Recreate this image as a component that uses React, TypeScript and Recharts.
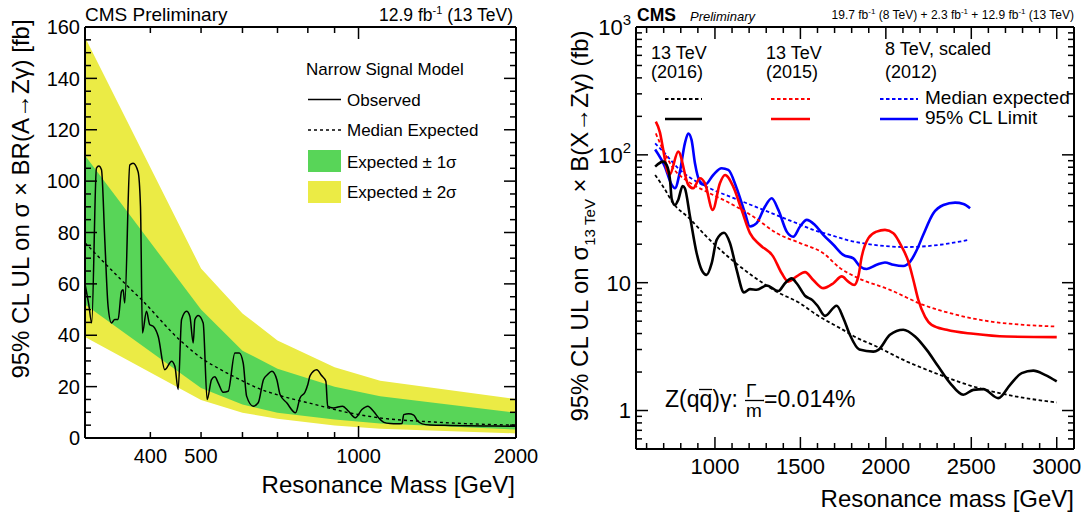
import React from "react";
import { ComposedChart, Area, Line, XAxis, YAxis } from "recharts";

const FONT = "'Liberation Sans', Arial, Helvetica, sans-serif";
const YELLOW = "#ebeb45";
const GREEN = "#58d558";
const RED = "#ff0000";
const BLUE = "#0000ff";

// ---------- left panel: narrow signal model, 12.9 fb-1 ----------
const LEFT_BAND_MASS = [300, 500, 600, 700, 900, 1100, 2000];
const LEFT_2S_HIGH = [156, 66, 48.5, 38, 27.5, 22.3, 15.2];
const LEFT_1S_HIGH = [110, 50, 34, 27, 20, 16.3, 9.8];
const LEFT_1S_LOW = [52, 19.5, 13, 9.8, 7.2, 5.6, 3.3];
const LEFT_2S_LOW = [39.3, 14.8, 9.8, 7.5, 4.9, 3.6, 1.8];

const LEFT_EXP_MASS = [300, 357, 385, 455, 510, 530, 610, 640, 708, 820, 950, 1100, 1370, 1600, 2000];
const LEFT_EXP = [76, 60.3, 53.8, 38.2, 30, 28, 21.5, 19.5, 16.5, 13.2, 10, 7.8, 6.3, 5.6, 5.0];

const LEFT_OBS_MASS = [
  300, 305, 309, 315.5, 318.8, 322.6, 327.3, 332.1, 337, 342, 347, 352.3, 354.8, 357.4,
  365.4, 370.7, 378.9, 383, 386.3, 393.2, 399, 405, 414, 426.4, 439.2, 445.6, 452.1,
  458.9, 469.1, 476, 483, 486.6, 493.7, 504.7, 513.6, 523.6, 531.3, 539.1, 551.1, 563.4,
  580.3, 591.5, 601.9, 611, 629, 643, 658, 670, 683, 698, 708, 729, 758, 773, 790, 800,
  808, 832, 850, 866, 873, 895, 932, 957, 986, 1015, 1042, 1068, 1100, 1118, 1149, 1185,
  1211, 1220, 1247, 1275, 1294, 1323, 1371, 1499, 1736, 2000,
];
const LEFT_OBS = [
  60, 52, 44.8, 105.1, 105.9, 104.4, 77.2, 51.2, 44.8, 46.1, 46.1, 57.1, 57.7, 52.6,
  106.3, 107, 103.7, 90.1, 40.9, 49.3, 44.1, 43.5, 39.6, 26.6, 29.9, 27.9, 18.9,
  46.1, 49.3, 47.4, 37, 46.1, 47.7, 44.8, 15, 22.7, 23.8, 21.5, 17.8, 18.2,
  33.1, 33.1, 29.2, 16.3, 12.4, 13.7, 22.7, 24.7, 26, 22.7, 16.9, 13.7, 9.8, 15.6, 17.8, 20.8,
  24.3, 26.6, 24.3, 22.1, 12.4, 11.7, 12.4, 10.4, 7.9, 11.1, 12.4, 10.4, 7.2, 6.1, 5.6, 5.5,
  5.6, 9.1, 9.4, 8.9, 6.9, 5.5, 5.1, 4.9, 4.7, 4.6,
];

const LEFT_X_DOMAIN = [300, 2000];
const LEFT_Y_DOMAIN = [0, 160];
const LEFT_X_TICKS = [400, 500, 600, 700, 800, 900, 1000, 2000];
const LEFT_X_MAJOR = [1000, 2000];
const LEFT_X_LABELS = [400, 500, 1000, 2000];
const LEFT_Y_TICKS = [
  0, 5, 10, 15, 20, 25, 30, 35, 40, 45, 50, 55, 60, 65, 70, 75, 80, 85, 90, 95, 100,
  105, 110, 115, 120, 125, 130, 135, 140, 145, 150, 155, 160,
];
const LEFT_Y_LABELS = [0, 20, 40, 60, 80, 100, 120, 140, 160];

// ---------- right panel: combination, Z(qq)gamma ----------
const BLACK_OBS_MASS = [
  650, 697, 717, 737, 747, 766, 785, 811, 824, 854, 893, 922, 951, 981, 1010, 1053, 1088,
  1127, 1170, 1205, 1244, 1303, 1371, 1410, 1449, 1478, 1527, 1570, 1600, 1644, 1712, 1751,
  1790, 1845, 1927, 1956, 2024, 2102, 2171, 2239, 2307, 2376, 2453, 2512, 2570, 2658, 2727,
  2795, 2863, 2931, 3000,
];
const BLACK_OBS = [
  80.9, 88.5, 83.4, 63.7, 45, 40.5, 44.4, 57.1, 54.8, 32.9, 17, 12.6, 11.5, 14.2, 21.6, 24.6, 20.4,
  12.6, 8.4, 8.9, 8.8, 9.5, 8.6, 9.9, 10.8, 9.9, 7.9, 7.3, 6.6, 5.5, 6.6, 5.3,
  3.9, 3.0, 2.89, 2.98, 3.91, 4.28, 3.79, 2.98, 2.21, 1.64, 1.33, 1.45, 1.47, 1.25, 1.59,
  1.96, 2.05, 1.9, 1.69,
];
const BLACK_EXP_MASS = [650, 697, 756, 854, 951, 1088, 1224, 1361, 1498, 1595, 1732, 1849, 1927, 2122, 2317, 2512, 2707, 3000];
const BLACK_EXP = [69.6, 56.4, 41.8, 31.5, 22.9, 15.5, 11.2, 8.5, 6.9, 5.6, 4.41, 3.6, 3.25, 2.42, 1.9, 1.54, 1.33, 1.155];

const RED_OBS_MASS = [
  654, 678, 697, 722, 735, 785, 844, 873, 912, 941, 987, 1029, 1059, 1107, 1156, 1205, 1263,
  1341, 1390, 1429, 1478, 1527, 1575, 1634, 1693, 1742, 1780, 1815, 1839, 1859, 1898, 1946,
  1995, 2044, 2093, 2132, 2161, 2190, 2229, 2268, 2356, 2512, 2707, 3000,
];
const RED_OBS = [
  182, 150, 110, 74, 70, 106, 58.2, 54.8, 65.6, 60, 37.1, 60, 69.6, 56.4, 37.1, 24.4, 19.8,
  16, 11.9, 10.2, 11.2, 12.1, 10.5, 9.06, 9.9, 11.2, 10.2, 9.6, 11.2, 16, 22.3, 25.1,
  25.9, 24.4, 19.1, 14.6, 10.5, 7.34, 5.43, 4.68, 4.28, 3.98, 3.79, 3.75,
];
const RED_EXP_MASS = [654, 697, 756, 844, 951, 1088, 1224, 1361, 1498, 1634, 1732, 1829, 2024, 2219, 2415, 2610, 2805, 3000];
const RED_EXP = [147, 109, 78.5, 61.7, 51.5, 41.8, 32.9, 24.4, 20.4, 17, 13, 11, 8.79, 6.7, 5.6, 4.97, 4.68, 4.54];

const BLUE_OBS_MASS = [
  650, 707, 747, 766, 795, 824, 844, 863, 883, 912, 941, 990, 1039, 1078, 1127, 1176, 1205,
  1244, 1293, 1332, 1371, 1420, 1458, 1498, 1537, 1585, 1634, 1693, 1751, 1810, 1849, 1888,
  1946, 1995, 2044, 2102, 2142, 2181, 2219, 2278, 2337, 2405, 2454, 2493,
];
const BLUE_OBS = [
  110, 80.9, 58.2, 54.8, 73.9, 123, 147, 131, 86, 61.7, 58.2, 69.6, 78.5, 76.2, 54.8, 34.9, 27.5,
  29.2, 39.4, 45.8, 37.1, 25.1, 22.9, 27.5, 31, 28.3, 23.7, 19.8, 16.5, 15.5, 13.4, 12.8,
  13.8, 14.4, 13.8, 13.5, 14.6, 18, 23.7, 34.9, 40.5, 42.3, 41.3, 38.2,
];
const BLUE_EXP_MASS = [650, 697, 795, 893, 990, 1088, 1186, 1283, 1381, 1478, 1575, 1673, 1771, 1927, 2122, 2317, 2483];
const BLUE_EXP = [123, 106, 76.2, 61.7, 53.2, 47.1, 41.8, 37.1, 32.9, 29.2, 25.9, 23.7, 21.6, 19.8, 19, 19.8, 21.6];

const RIGHT_X_DOMAIN = [538, 3101];
const RIGHT_Y_DOMAIN = [0.5, 1000];
const RIGHT_X_TICKS = [
  600, 700, 800, 900, 1000, 1100, 1200, 1300, 1400, 1500, 1600, 1700, 1800, 1900, 2000,
  2100, 2200, 2300, 2400, 2500, 2600, 2700, 2800, 2900, 3000,
];
const RIGHT_X_MAJOR = [1000, 1500, 2000, 2500, 3000];
const RIGHT_X_LABELS = [1000, 1500, 2000, 2500, 3000];
const RIGHT_Y_TICKS = [
  0.5, 0.6, 0.7, 0.8, 0.9, 1, 2, 3, 4, 5, 6, 7, 8, 9, 10, 20, 30, 40, 50, 60, 70, 80, 90,
  100, 200, 300, 400, 500, 600, 700, 800, 900, 1000,
];
const RIGHT_Y_MAJOR = [1, 10, 100, 1000];

const zip = (xs: number[], ys: number[]) => xs.map((m, i) => ({ m, v: ys[i] }));

const leftBands = LEFT_BAND_MASS.map((m, i) => ({
  m,
  two: [LEFT_2S_LOW[i], LEFT_2S_HIGH[i]],
  one: [LEFT_1S_LOW[i], LEFT_1S_HIGH[i]],
}));
const leftExp = zip(LEFT_EXP_MASS, LEFT_EXP);
const leftObs = zip(LEFT_OBS_MASS, LEFT_OBS);

const blackObs = zip(BLACK_OBS_MASS, BLACK_OBS);
const blackExp = zip(BLACK_EXP_MASS, BLACK_EXP);
const redObs = zip(RED_OBS_MASS, RED_OBS);
const redExp = zip(RED_EXP_MASS, RED_EXP);
const blueObs = zip(BLUE_OBS_MASS, BLUE_OBS);
const blueExp = zip(BLUE_EXP_MASS, BLUE_EXP);

// plot rectangles (page pixels) that the chart margins below produce
const LP = { x0: 85, x1: 516, y0: 27, y1: 438 };
const RP = { x0: 636, x1: 1074, y0: 27, y1: 449 };

function logLabel(v: number) {
  if (v === 1000) return <><tspan>10</tspan><tspan dy={-10} fontSize={15}>3</tspan></>;
  if (v === 100) return <><tspan>10</tspan><tspan dy={-10} fontSize={15}>2</tspan></>;
  return <tspan>{v}</tspan>;
}

// axis labels from the recharts axes
const labelTick =
  (side: string, labels: number[], fontSize: number, fmt?: (v: number) => React.ReactNode) =>
  (p: any) => {
    const v = p.payload.value;
    if (!labels.includes(v)) return <g />;
    const x = Number(p.x);
    const y = Number(p.y);
    if (side === "bottom")
      return (
        <text x={x} y={y + 25} textAnchor="middle" fontSize={fontSize} fontFamily={FONT} fill="#000">
          {fmt ? fmt(v) : v}
        </text>
      );
    return (
      <text x={x - 5} y={y + fontSize * 0.36} textAnchor="end" fontSize={fontSize} fontFamily={FONT} fill="#000">
        {fmt ? fmt(v) : v}
      </text>
    );
  };

function LeftPanel() {
  return (
    <ComposedChart width={540} height={518} margin={{ top: 27, right: 24, bottom: 0, left: 0 }}>
      <XAxis xAxisId="b" dataKey="m" type="number" scale="log" domain={LEFT_X_DOMAIN} allowDataOverflow
        ticks={LEFT_X_TICKS} interval={0} height={80} tickSize={0} tickMargin={0} tickLine={false}
        axisLine={false} tick={labelTick("bottom", LEFT_X_LABELS, 20)} />
      <YAxis yAxisId="l" type="number" domain={LEFT_Y_DOMAIN} allowDataOverflow ticks={LEFT_Y_TICKS} interval={0}
        width={85} tickSize={0} tickMargin={0} tickLine={false} axisLine={false}
        tick={labelTick("left", LEFT_Y_LABELS, 20)} />
      <Area xAxisId="b" yAxisId="l" data={leftBands} dataKey="two" type="linear" stroke="none"
        fill={YELLOW} fillOpacity={1} isAnimationActive={false} />
      <Area xAxisId="b" yAxisId="l" data={leftBands} dataKey="one" type="linear" stroke="none"
        fill={GREEN} fillOpacity={1} isAnimationActive={false} />
      <Line xAxisId="b" yAxisId="l" data={leftExp} dataKey="v" type="monotone" stroke="#000"
        strokeWidth={1.4} strokeDasharray="3 3" dot={false} isAnimationActive={false} />
      <Line xAxisId="b" yAxisId="l" data={leftObs} dataKey="v" type="monotone" stroke="#000"
        strokeWidth={1.5} dot={false} isAnimationActive={false} />
    </ComposedChart>
  );
}

function RightPanel() {
  const dash = "3.5 2.5";
  return (
    <ComposedChart width={546} height={518} margin={{ top: 27, right: 12, bottom: 0, left: 0 }}>
      <XAxis xAxisId="b" dataKey="m" type="number" domain={RIGHT_X_DOMAIN} allowDataOverflow
        ticks={RIGHT_X_TICKS} interval={0} height={69} tickSize={0} tickMargin={0} tickLine={false}
        axisLine={false} tick={labelTick("bottom", RIGHT_X_LABELS, 22)} />
      <YAxis yAxisId="l" type="number" scale="log" domain={RIGHT_Y_DOMAIN} allowDataOverflow ticks={RIGHT_Y_TICKS}
        interval={0} width={96} tickSize={0} tickMargin={0} tickLine={false} axisLine={false}
        tick={labelTick("left", RIGHT_Y_MAJOR, 22, logLabel)} />
      <Line xAxisId="b" yAxisId="l" data={blueExp} dataKey="v" type="monotone" stroke={BLUE}
        strokeWidth={1.8} strokeDasharray={dash} dot={false} isAnimationActive={false} />
      <Line xAxisId="b" yAxisId="l" data={blueObs} dataKey="v" type="monotone" stroke={BLUE}
        strokeWidth={2.6} dot={false} isAnimationActive={false} />
      <Line xAxisId="b" yAxisId="l" data={redExp} dataKey="v" type="monotone" stroke={RED}
        strokeWidth={1.8} strokeDasharray={dash} dot={false} isAnimationActive={false} />
      <Line xAxisId="b" yAxisId="l" data={redObs} dataKey="v" type="monotone" stroke={RED}
        strokeWidth={2.6} dot={false} isAnimationActive={false} />
      <Line xAxisId="b" yAxisId="l" data={blackExp} dataKey="v" type="monotone" stroke="#000"
        strokeWidth={1.8} strokeDasharray={dash} dot={false} isAnimationActive={false} />
      <Line xAxisId="b" yAxisId="l" data={blackObs} dataKey="v" type="monotone" stroke="#000"
        strokeWidth={2.6} dot={false} isAnimationActive={false} />
    </ComposedChart>
  );
}

// ROOT-style frame with inward ticks on all four sides
function Frame({ r, xs, ys, xMajor, yMajor, fx, fy }: any) {
  const parts: React.ReactNode[] = [];
  xs.forEach((v: number) => {
    const x = fx(v);
    const len = xMajor.includes(v) ? 12 : 6;
    parts.push(<line key={"xb" + v} x1={x} x2={x} y1={r.y1} y2={r.y1 - len} />);
    parts.push(<line key={"xt" + v} x1={x} x2={x} y1={r.y0} y2={r.y0 + len} />);
  });
  ys.forEach((v: number) => {
    const y = fy(v);
    const len = yMajor.includes(v) ? 12 : 6;
    parts.push(<line key={"yl" + v} x1={r.x0} x2={r.x0 + len} y1={y} y2={y} />);
    parts.push(<line key={"yr" + v} x1={r.x1} x2={r.x1 - len} y1={y} y2={y} />);
  });
  return (
    <g>
      <g stroke="#000" strokeWidth={1.5}>{parts}</g>
      <line x1={r.x0} x2={r.x1} y1={r.y0} y2={r.y0} stroke="#000" strokeWidth={2} />
      <line x1={r.x0} x2={r.x1} y1={r.y1} y2={r.y1} stroke="#000" strokeWidth={2} />
      <line x1={r.x0} x2={r.x0} y1={r.y0} y2={r.y1} stroke="#000" strokeWidth={2} />
      <line x1={r.x1} x2={r.x1} y1={r.y0} y2={r.y1} stroke="#000" strokeWidth={2} />
    </g>
  );
}

const leftX = (m: number) =>
  LP.x0 + ((LP.x1 - LP.x0) * Math.log(m / LEFT_X_DOMAIN[0])) / Math.log(LEFT_X_DOMAIN[1] / LEFT_X_DOMAIN[0]);
const leftY = (v: number) => LP.y1 - ((LP.y1 - LP.y0) * (v - LEFT_Y_DOMAIN[0])) / (LEFT_Y_DOMAIN[1] - LEFT_Y_DOMAIN[0]);
const rightX = (m: number) =>
  RP.x0 + ((RP.x1 - RP.x0) * (m - RIGHT_X_DOMAIN[0])) / (RIGHT_X_DOMAIN[1] - RIGHT_X_DOMAIN[0]);
const rightY = (v: number) =>
  RP.y1 - ((RP.y1 - RP.y0) * Math.log(v / RIGHT_Y_DOMAIN[0])) / Math.log(RIGHT_Y_DOMAIN[1] / RIGHT_Y_DOMAIN[0]);

function Labels() {
  const t = { fontFamily: FONT, fill: "#000" };
  return (
    <svg width={1086} height={518} style={{ position: "absolute", left: 0, top: 0, pointerEvents: "none", zIndex: 5 }}>
      <Frame r={LP} xs={LEFT_X_TICKS} ys={LEFT_Y_TICKS} xMajor={LEFT_X_MAJOR} yMajor={LEFT_Y_LABELS} fx={leftX} fy={leftY} />
      <Frame r={RP} xs={RIGHT_X_TICKS} ys={RIGHT_Y_TICKS} xMajor={RIGHT_X_MAJOR} yMajor={RIGHT_Y_MAJOR} fx={rightX} fy={rightY} />

      {/* left panel */}
      <text {...t} x={85} y={21} fontSize={19}>CMS Preliminary</text>
      <text {...t} x={513} y={21} fontSize={17.5} textAnchor="end">
        12.9 fb<tspan dy={-7} fontSize={11}>-1</tspan><tspan dy={7}> (13 TeV)</tspan>
      </text>
      <text {...t} x={29} y={199} fontSize={24} textAnchor="middle" transform="rotate(-90 29 199)">
        95% CL UL on σ × BR(A→Zγ) [fb]
      </text>
      <text {...t} x={515} y={493} fontSize={24} textAnchor="end">Resonance Mass [GeV]</text>

      <text {...t} x={306} y={75} fontSize={17}>Narrow Signal Model</text>
      <line x1={308} x2={341} y1={99.5} y2={99.5} stroke="#000" strokeWidth={1.4} />
      <text {...t} x={347} y={106} fontSize={17}>Observed</text>
      <line x1={308} x2={341} y1={130} y2={130} stroke="#000" strokeWidth={1.4} strokeDasharray="3 3" />
      <text {...t} x={347} y={136} fontSize={17}>Median Expected</text>
      <rect x={308} y={150} width={33} height={22} fill={GREEN} />
      <text {...t} x={347} y={167.5} fontSize={17}>Expected ± 1σ</text>
      <rect x={308} y={181} width={33} height={22} fill={YELLOW} />
      <text {...t} x={347} y={198} fontSize={17}>Expected ± 2σ</text>

      {/* right panel */}
      <text {...t} x={637} y={21} fontSize={17.5} fontWeight="bold">CMS</text>
      <text {...t} x={690} y={21} fontSize={13} fontStyle="italic">Preliminary</text>
      <text {...t} x={1074} y={19} fontSize={12} textAnchor="end">
        19.7 fb<tspan dy={-5} fontSize={8}>-1</tspan><tspan dy={5}> (8 TeV) +  2.3 fb</tspan>
        <tspan dy={-5} fontSize={8}>-1</tspan><tspan dy={5}> + 12.9 fb</tspan>
        <tspan dy={-5} fontSize={8}>-1</tspan><tspan dy={5}> (13 TeV)</tspan>
      </text>
      <text {...t} x={588} y={226} fontSize={24} textAnchor="middle" transform="rotate(-90 588 226)">
        95% CL UL on σ<tspan dy={7} fontSize={15}>13 TeV</tspan><tspan dy={-7}> × B(X→Zγ) (fb)</tspan>
      </text>
      <text {...t} x={1074} y={506.5} fontSize={24} textAnchor="end">Resonance mass [GeV]</text>

      <text {...t} x={651} y={59} fontSize={18}>13 TeV</text>
      <text {...t} x={651} y={78} fontSize={18}>(2016)</text>
      <text {...t} x={766} y={59} fontSize={18}>13 TeV</text>
      <text {...t} x={766} y={78} fontSize={18}>(2015)</text>
      <text {...t} x={885} y={55} fontSize={18}>8 TeV, scaled</text>
      <text {...t} x={885} y={78} fontSize={18}>(2012)</text>
      <line x1={665} x2={702} y1={99} y2={99} stroke="#000" strokeWidth={1.8} strokeDasharray="3.5 2.5" />
      <line x1={665} x2={702} y1={119} y2={119} stroke="#000" strokeWidth={2.6} />
      <line x1={771} x2={810} y1={99} y2={99} stroke={RED} strokeWidth={1.8} strokeDasharray="3.5 2.5" />
      <line x1={771} x2={810} y1={119} y2={119} stroke={RED} strokeWidth={2.6} />
      <line x1={880} x2={918} y1={99} y2={99} stroke={BLUE} strokeWidth={1.8} strokeDasharray="3.5 2.5" />
      <line x1={880} x2={918} y1={119} y2={119} stroke={BLUE} strokeWidth={2.6} />
      <text {...t} x={925} y={103.5} fontSize={19}>Median expected</text>
      <text {...t} x={925} y={123.5} fontSize={19}>95% CL Limit</text>

      <text {...t} x={665} y={407} fontSize={23}>Z(qq)γ:</text>
      <line x1={699} x2={712} y1={389.5} y2={389.5} stroke="#000" strokeWidth={1.3} />
      <text {...t} x={746} y={396.5} fontSize={19}>Γ</text>
      <line x1={745} x2={764} y1={400.5} y2={400.5} stroke="#000" strokeWidth={1.3} />
      <text {...t} x={746} y={416.5} fontSize={19}>m</text>
      <text {...t} x={764} y={407} fontSize={23}>=0.014%</text>
    </svg>
  );
}

export default function App() {
  return (
    <div style={{ position: "absolute", left: 0, top: 0, width: 1086, height: 518, background: "#fff", fontFamily: FONT }}>
      <div style={{ position: "absolute", left: 0, top: 0 }}>
        <LeftPanel />
      </div>
      <div style={{ position: "absolute", left: 540, top: 0 }}>
        <RightPanel />
      </div>
      <Labels />
    </div>
  );
}
